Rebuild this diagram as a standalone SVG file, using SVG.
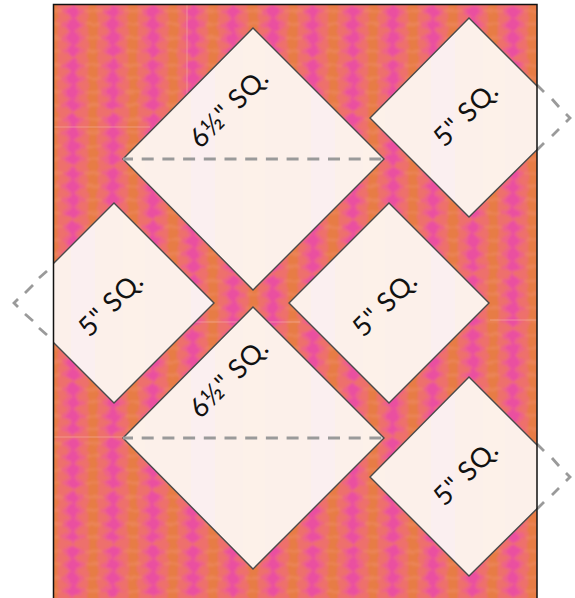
<svg xmlns="http://www.w3.org/2000/svg" width="575" height="598" viewBox="0 0 575 598">
<style>
.sq{fill:url(#pale);stroke:#4a4a4a;stroke-width:1.4;stroke-linejoin:miter}
.lbl{font-family:"Lato","Noto Sans",sans-serif;font-weight:400;font-size:27px;letter-spacing:.7px;fill:#111;text-anchor:middle;dominant-baseline:central}
.dash{fill:none;stroke:#9a9a9a;stroke-width:2.8}
.mid{stroke-dasharray:12 8.7;stroke-dashoffset:2}
.seam{stroke:#f7b7a8;stroke-width:1;opacity:.55}
</style>
<defs>
<pattern id="fab" width="40" height="54" patternUnits="userSpaceOnUse" x="53" y="4">
<rect width="40" height="54" fill="#ee6f6c"/>
<rect x="0" width="5" height="54" fill="#e9784c"/>
<rect x="35" width="5" height="54" fill="#e9784c"/>
<path d="M0 0H4V54H0ZM36 0H40V54H36Z" fill="#e77b45"/>
<path d="M20 0L32 7L24 14L32 21L24 27L32 34L24 41L32 47L20 54L8 47L16 41L8 34L16 27L8 21L16 14L8 7Z" fill="#f0608c" opacity=".85"/>
<path d="M20 1L27 7L21 14L27 21L21 27L27 34L21 41L27 47L20 53L13 47L19 41L13 34L19 27L13 21L19 14L13 7Z" fill="#ea50a0"/>
<path d="M0 7H9M31 7H40M0 20H7M33 20H40M0 34H8M32 34H40M0 47H7M33 47H40" stroke="#ee8a62" stroke-width="3" opacity=".6"/>
</pattern>
<pattern id="pale" width="120" height="60" patternUnits="userSpaceOnUse" x="53" y="0">
<rect width="120" height="60" fill="#fcf0ea"/>
<rect x="18" width="24" height="60" fill="#fbeff0"/>
<rect x="70" width="22" height="60" fill="#fdf1e9"/>
</pattern>
<filter id="soft" x="0" y="0" width="1" height="1">
<feTurbulence type="fractalNoise" baseFrequency="0.12 0.16" numOctaves="2" seed="4" result="n"/>
<feDisplacementMap in="SourceGraphic" in2="n" scale="5" xChannelSelector="R" yChannelSelector="G"/>
<feGaussianBlur stdDeviation="0.8"/>
</filter>
<clipPath id="frame"><rect x="53.5" y="4" width="483.5" height="594"/></clipPath>
</defs>
<rect width="575" height="598" fill="#fff"/>
<g id="fabric" clip-path="url(#frame)">
<rect x="33" y="-16" width="524" height="634" fill="url(#fab)" filter="url(#soft)"/>
<path class="seam" d="M187 4V110M53 127H150M190 322H300M490 320H537M53 437H123"/>
</g>
<g id="connectors">
<path class="dash" d="M47 271L39 278M33 285L25 293M18 299L14 303L18 307M25 314L33 321M39 328L47 335"/>
<path class="dash" d="M537 85L544 92M552 99L559 107M566 114L570 118L566 122M559 129L552 136M544 143L537 150"/>
<path class="dash" d="M537 444L544 451M552 458L559 466M566 473L570 477L566 481M559 488L552 495M544 502L537 509"/>
</g>
<g clip-path="url(#frame)">
<g id="square-a"><path class="sq" d="M253 28L384 159L253 290L123 159Z"/><path class="dash mid" d="M123 159H384"/><text class="lbl" transform="translate(228 107) rotate(-45)">6½" SQ.</text></g>
<g id="square-b"><path class="sq" d="M469 18L569 118L469 217L370 118Z"/><text class="lbl" transform="translate(465 113) rotate(-45)">5" SQ.</text></g>
<g id="square-c"><path class="sq" d="M114 203L214 303L114 403L14 303Z"/><text class="lbl" transform="translate(110 303) rotate(-45)">5" SQ.</text></g>
<g id="square-d"><path class="sq" d="M389 203L489 303L389 403L289 303Z"/><text class="lbl" transform="translate(384 303) rotate(-45)">5" SQ.</text></g>
<g id="square-e"><path class="sq" d="M253 307L384 438L253 569L123 438Z"/><path class="dash mid" d="M123 438H384"/><text class="lbl" transform="translate(228 377) rotate(-45)">6½" SQ.</text></g>
<g id="square-f"><path class="sq" d="M469 377L569 477L469 576L370 477Z"/><text class="lbl" transform="translate(465 472) rotate(-45)">5" SQ.</text></g>
</g>
<path id="border" d="M53.500 598V4.500H537V598" fill="none" stroke="#111" stroke-width="1.5"/>
</svg>
